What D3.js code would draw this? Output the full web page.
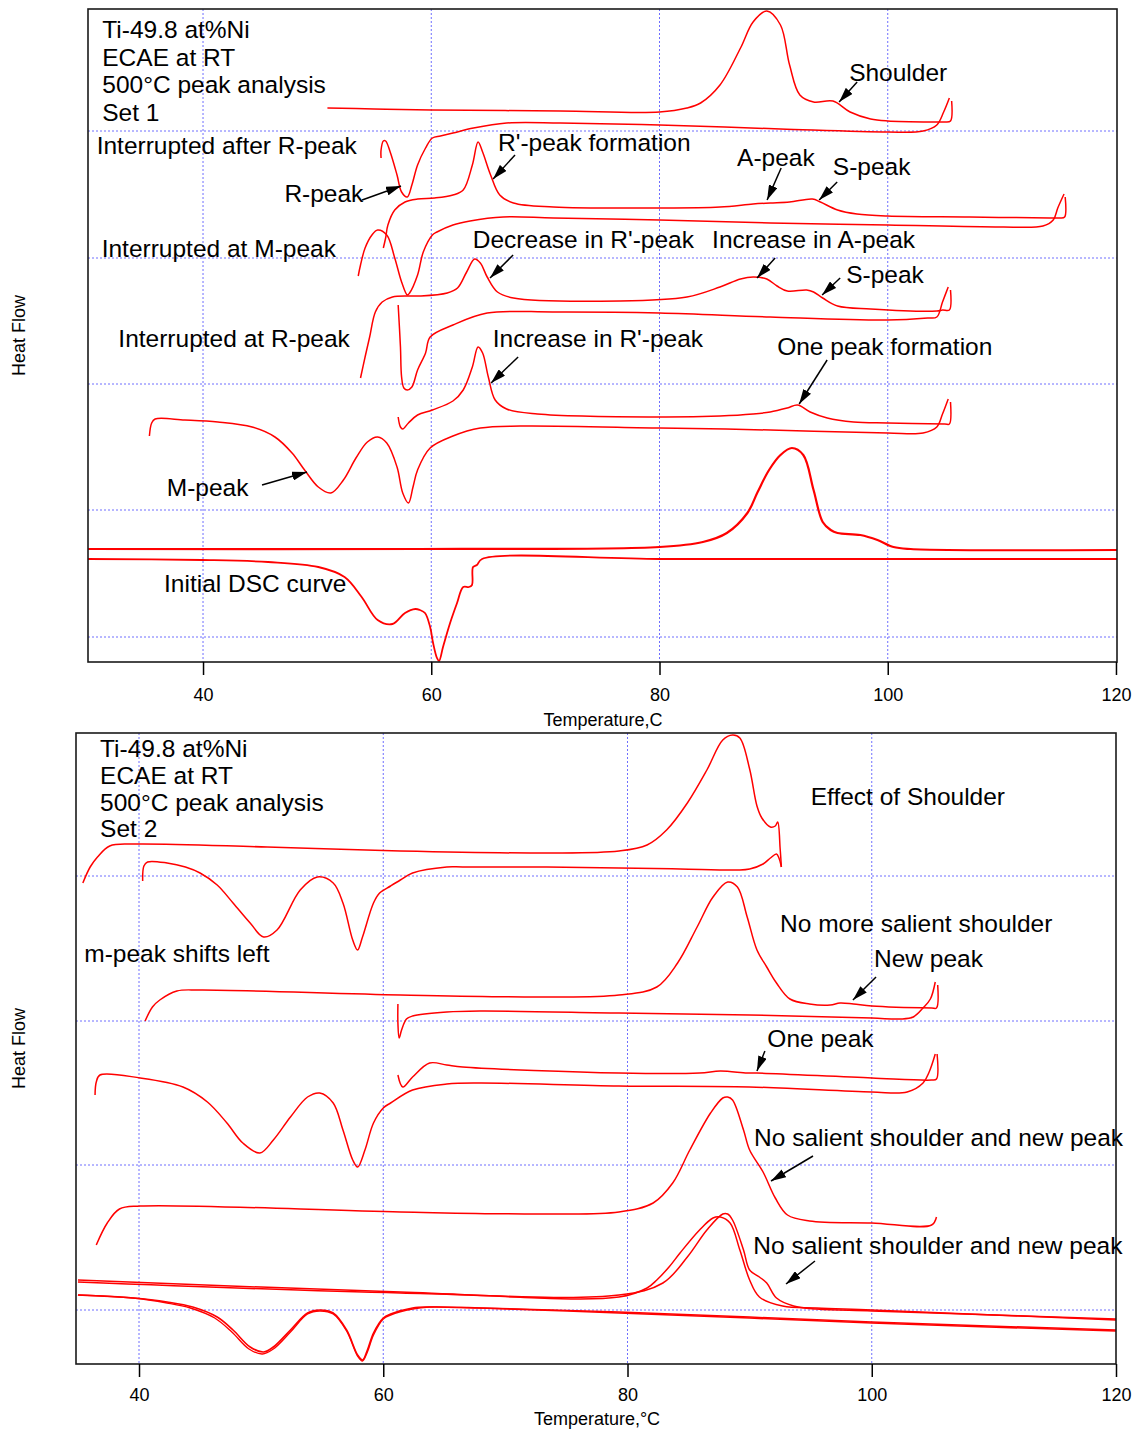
<!DOCTYPE html>
<html>
<head>
<meta charset="utf-8">
<script src="https://cdn.jsdelivr.net/npm/d3@7"></script>
<style>
  html, body { margin: 0; padding: 0; background: #fff; }
  svg { display: block; font-family: "Liberation Sans", Arial, Helvetica, sans-serif; }
</style>
</head>
<body>
<svg id="chart" width="1140" height="1431"></svg>
<script>
// ---------- axis values ----------
const tempTicks = [40, 60, 80, 100, 120];
const gridTemps = [40, 60, 80, 100];
const set1FlowGrid = [2.5, 15.2, 27.8, 40.4, 53.1];
const set2FlowGrid = [5.4, 19.9, 34.3, 48.8];

// ---------- Set 1 DSC traces: [temperature °C, heat flow (offset, arb. units)] ----------
const set1Heat0 = [[50.9,55.4],[55.0,55.3],[60.0,55.2],[71.3,55.1],[80.0,55.0],[82.4,55.4],[83.6,55.9],[85.3,57.7],[87.1,61.4],[88.2,64.0],[89.4,65.1],[90.6,63.7],[91.4,59.7],[92.3,56.7],[93.5,56.0],[95.2,56.1],[96.7,55.0],[98.5,54.3],[100.0,54.1],[104.3,54.0],[105.0,54.0],[105.5,54.1],[105.6,56.1]];
const set1Cool0 = [[105.4,56.4],[104.9,55.0],[104.3,53.7],[103.1,53.1],[100.0,53.0],[90.6,53.3],[80.0,53.7],[71.3,53.9],[66.6,53.9],[63.7,53.4],[61.9,52.9],[60.8,52.6],[60.1,52.4],[59.5,51.4],[58.8,49.7],[58.3,47.7],[57.9,46.5],[57.4,47.0],[57.0,48.7],[56.4,51.0],[56.0,52.1],[55.8,52.1],[55.6,51.2],[55.6,50.4]];
const set1Heat1 = [[55.8,41.4],[56.0,42.4],[56.2,43.7],[56.8,45.2],[57.7,46.0],[58.8,46.3],[60.3,46.4],[61.9,46.7],[62.8,47.2],[63.6,49.7],[64.1,52.0],[64.5,51.0],[65.2,48.7],[66.0,46.7],[67.2,45.9],[70.7,45.5],[80.0,45.4],[85.3,45.5],[88.2,45.8],[89.7,45.9],[91.4,46.0],[93.4,46.3],[94.1,46.0],[95.6,45.2],[97.3,44.8],[100.0,44.6],[107.2,44.5],[114.2,44.4],[115.1,44.4],[115.5,44.5],[115.55,46.5]];
const set1Cool1 = [[115.45,46.8],[114.9,45.4],[114.5,44.2],[113.6,43.6],[110.1,43.5],[100.0,43.7],[89.7,43.9],[80.0,44.2],[70.7,44.4],[66.3,44.5],[63.4,44.1],[61.9,43.7],[60.5,43.0],[60.1,42.7],[59.3,41.0],[58.8,38.7],[58.1,36.9],[57.9,36.7],[57.4,38.0],[56.8,40.4],[56.1,42.7],[55.3,43.2],[54.8,42.7],[54.2,41.4],[53.8,39.7],[53.6,38.6]];
const set1Heat2 = [[53.8,28.4],[54.2,30.5],[54.6,32.5],[55.1,35.0],[55.7,36.0],[56.6,36.5],[58.0,36.6],[59.0,36.6],[61.4,36.9],[62.3,37.4],[63.1,39.0],[63.8,40.3],[64.3,39.9],[64.9,38.5],[65.8,37.0],[67.2,36.4],[76.5,36.1],[82.4,36.5],[85.3,37.5],[87.1,38.3],[88.2,38.5],[89.4,38.3],[90.3,37.6],[91.2,37.1],[92.9,37.2],[93.5,37.0],[94.3,36.4],[95.6,35.6],[98.5,35.3],[104.3,35.1],[104.8,35.2],[105.4,35.2],[105.5,37.2]];
const set1Cool2 = [[105.3,37.5],[104.8,36.0],[104.3,34.5],[103.5,34.4],[100.0,34.2],[89.7,34.5],[80.0,34.9],[70.7,35.0],[64.9,34.9],[61.9,33.7],[59.9,32.5],[59.5,30.9],[58.8,29.2],[58.3,27.5],[57.9,27.2],[57.6,27.4],[57.4,28.5],[57.3,31.5],[57.1,35.7]];
const set1Heat3 = [[57.1,24.5],[57.3,23.5],[57.5,23.3],[58.0,23.9],[58.8,24.7],[60.1,25.2],[61.9,26.1],[62.8,27.2],[63.6,29.5],[64.1,31.5],[64.5,30.9],[65.0,28.5],[65.6,26.2],[66.6,25.3],[69.3,24.8],[80.0,24.5],[85.3,24.6],[88.2,24.8],[89.7,25.0],[91.2,25.4],[92.1,25.7],[93.2,25.0],[94.7,24.4],[97.0,24.0],[100.0,23.9],[105.0,23.8],[105.4,23.8],[105.5,26.0]];
const set1Cool3 = [[105.3,26.3],[104.8,24.8],[104.3,23.5],[103.1,22.9],[100.0,22.9],[89.7,23.2],[80.0,23.4],[67.8,23.6],[64.3,23.4],[61.9,22.6],[59.9,21.4],[58.8,19.2],[58.4,17.5],[58.0,15.9],[57.5,16.9],[57.0,19.5],[56.1,21.9],[55.3,22.5],[54.4,22.0],[53.4,20.4],[52.3,18.2],[51.2,16.9],[50.1,17.5],[48.9,19.2],[47.8,20.9],[46.3,22.5],[44.3,23.5],[41.3,24.0],[38.4,24.2],[35.8,24.3],[35.5,23.9],[35.3,22.6]];
const initialHeat = [[29.9,11.3],[59.0,11.3],[80.0,11.5],[83.8,12.0],[85.9,12.9],[87.7,14.9],[88.6,17.0],[89.6,19.2],[90.6,20.7],[91.6,21.4],[92.6,20.7],[93.5,17.2],[94.3,14.0],[95.0,13.2],[95.6,12.9],[97.6,12.7],[99.1,12.2],[100.5,11.5],[102.0,11.3],[120.1,11.2]];
const initialCool = [[120.1,10.3],[100.0,10.3],[80.0,10.3],[64.45,10.3],[64.0,9.7],[63.66,9.5],[63.57,7.7],[63.3,7.5],[62.8,7.5],[62.26,5.9],[61.65,3.9],[61.03,1.5],[60.68,0.1],[60.5,0.4],[60.16,1.9],[59.9,3.5],[59.45,4.9],[59.0,5.2],[58.6,5.3],[57.7,4.9],[56.6,3.8],[55.3,4.2],[53.9,6.5],[52.4,8.5],[50.1,9.5],[45.7,10.0],[39.9,10.2],[29.9,10.3]];

// ---------- Set 2 DSC traces ----------
const set2Heat0 = [[35.4,48.1],[36.0,49.7],[36.6,50.7],[37.6,51.8],[39.5,52.0],[50.5,51.7],[61.4,51.3],[73.4,51.1],[79.3,51.3],[81.6,51.9],[83.2,53.4],[84.9,56.1],[86.5,59.4],[87.8,62.4],[88.6,62.9],[89.2,62.6],[90.0,59.5],[90.6,55.8],[91.0,54.6],[91.7,53.7],[92.1,53.8],[92.3,54.2],[92.5,51.5],[92.6,49.7]];
const set2Cool0 = [[92.6,49.7],[92.4,50.6],[92.2,51.0],[91.7,50.6],[91.1,50.0],[90.0,49.5],[89.0,49.4],[84.3,49.5],[79.3,49.6],[73.4,49.7],[66.5,49.7],[65.2,49.7],[62.4,49.1],[61.4,48.4],[60.6,47.8],[59.7,47.1],[59.2,46.1],[58.3,42.7],[57.9,41.4],[57.5,42.4],[56.7,46.1],[55.9,48.1],[54.6,48.7],[53.2,47.4],[51.3,43.4],[50.2,42.7],[49.1,44.1],[47.7,46.1],[46.4,47.9],[45.0,49.1],[43.8,49.7],[42.3,50.1],[40.7,50.2],[40.4,49.8],[40.3,48.3]];
const set2Heat1 = [[40.5,34.3],[41.1,35.7],[41.7,36.4],[43.1,37.3],[45.0,37.4],[61.4,36.9],[73.4,36.7],[79.3,36.9],[82.4,37.7],[84.1,40.1],[85.7,43.7],[87.0,46.7],[88.2,48.2],[89.0,47.7],[89.8,44.7],[90.6,41.4],[91.4,39.7],[92.2,38.1],[93.3,36.5],[94.9,36.0],[96.6,35.9],[97.4,36.1],[98.5,36.0],[100.0,35.8],[104.9,35.6],[105.3,35.6],[105.4,37.9]];
const set2Cool1 = [[105.2,38.2],[104.8,36.5],[104.2,35.6],[103.4,34.7],[102.3,34.5],[100.0,34.6],[90.0,34.9],[79.3,35.1],[67.9,35.3],[65.2,35.2],[62.4,34.8],[61.9,34.5],[61.5,33.4],[61.3,32.6],[61.2,34.1],[61.2,36.0]];
const set2Heat2 = [[61.2,28.9],[61.6,27.7],[62.4,28.7],[63.8,30.1],[65.2,29.9],[66.5,29.7],[79.3,29.1],[85.9,29.1],[87.6,29.3],[89.8,29.1],[90.6,29.1],[100.0,28.6],[104.9,28.4],[105.3,28.5],[105.35,31.0]];
const set2Cool2 = [[105.2,31.0],[104.7,29.2],[104.2,28.1],[102.9,27.2],[100.0,27.2],[90.0,27.7],[79.3,27.8],[67.9,28.1],[65.2,28.0],[62.4,27.4],[60.6,26.1],[60.0,25.6],[59.2,24.1],[58.5,21.4],[57.9,19.7],[57.5,20.4],[56.7,23.4],[55.9,26.1],[54.8,27.1],[53.8,26.7],[52.4,24.7],[51.0,22.4],[49.9,21.1],[48.5,22.1],[47.2,24.1],[45.6,26.2],[43.6,27.7],[40.1,28.6],[36.8,28.9],[36.5,28.2],[36.4,26.9]];
const set2Heat3 = [[36.5,11.9],[37.4,14.1],[38.4,15.5],[40.1,15.8],[61.4,15.2],[73.4,15.0],[79.3,15.2],[82.1,16.1],[83.7,18.1],[85.1,21.4],[86.8,25.1],[87.8,26.6],[88.2,26.7],[88.6,26.4],[89.5,23.4],[90.0,21.4],[91.1,19.2],[92.1,16.6],[93.1,14.9],[94.9,14.3],[100.0,14.1],[104.9,13.9],[105.3,14.7]];
const set2Heat4a = [[35.0,8.4],[61.4,7.2],[79.3,6.7],[81.6,7.6],[82.4,8.4],[83.4,9.7],[84.3,11.1],[85.9,13.4],[87.0,14.6],[87.6,14.7],[88.4,14.1],[89.2,11.4],[90.0,8.4],[90.8,6.7],[92.7,5.8],[95.5,5.6],[100.0,5.4],[120.0,4.4]];
const set2Heat4b = [[35.0,8.2],[61.4,7.1],[79.3,6.9],[82.9,8.1],[84.9,10.7],[86.5,13.4],[87.8,15.0],[88.2,15.0],[88.6,14.4],[89.5,11.4],[90.0,9.4],[90.8,8.7],[91.4,8.1],[92.2,6.6],[93.6,5.8],[95.5,5.5],[100.0,5.3],[120.0,4.5]];
const set2Cool4a = [[120.0,3.3],[100.0,4.1],[90.0,4.6],[79.3,5.1],[67.9,5.6],[63.8,5.7],[62.4,5.6],[60.6,5.0],[60.0,4.6],[59.2,3.1],[58.7,1.4],[58.3,0.4],[57.9,0.9],[57.0,3.4],[55.9,5.1],[54.8,5.4],[53.8,5.1],[52.4,3.4],[51.0,1.7],[50.2,1.2],[49.1,1.7],[47.7,3.4],[46.4,4.7],[44.4,5.7],[42.3,6.2],[39.5,6.6],[35.0,6.9]];
const set2Cool4b = [[120.0,3.4],[100.0,4.2],[90.0,4.7],[79.3,5.2],[67.9,5.6],[63.8,5.7],[62.4,5.5],[60.6,4.9],[60.0,4.5],[59.2,2.9],[58.7,1.2],[58.3,0.3],[57.9,0.8],[57.0,3.3],[55.9,5.0],[54.8,5.3],[53.8,5.0],[52.4,3.2],[51.0,1.5],[50.1,1.0],[49.0,1.5],[47.6,3.2],[46.2,4.6],[44.2,5.6],[42.3,6.1],[39.5,6.6],[35.0,6.9]];

// ---------- annotation texts ----------
const set1Notes = [
  {text: "Ti-49.8 at%Ni", t: 31.17, f: 62.4},
  {text: "ECAE at RT", t: 31.17, f: 59.6},
  {text: "500°C peak analysis", t: 31.17, f: 56.9},
  {text: "Set 1", t: 31.17, f: 54.1},
  {text: "Interrupted after R-peak", t: 30.68, f: 50.8},
  {text: "R-peak", t: 47.13, f: 46.0},
  {text: "Interrupted at M-peak", t: 31.12, f: 40.5},
  {text: "Interrupted at R-peak", t: 32.58, f: 31.5},
  {text: "M-peak", t: 36.82, f: 16.6},
  {text: "Initial DSC curve", t: 36.58, f: 7.0},
  {text: "R'-peak formation", t: 65.85, f: 51.1},
  {text: "Decrease in R'-peak", t: 63.64, f: 41.4},
  {text: "Increase in A-peak", t: 84.61, f: 41.4},
  {text: "Increase in R'-peak", t: 65.39, f: 31.5},
  {text: "A-peak", t: 86.8, f: 49.6},
  {text: "Shoulder", t: 96.62, f: 58.1},
  {text: "S-peak", t: 95.19, f: 48.7},
  {text: "S-peak", t: 96.36, f: 37.9},
  {text: "One peak formation", t: 90.31, f: 30.7}
];
const set1Arrows = [
  [53.94, 46.2, 57.35, 47.6],
  [45.17, 17.7, 49.11, 19.0],
  [67.34, 50.7, 65.42, 48.3],
  [67.17, 40.7, 65.15, 38.4],
  [67.61, 30.5, 65.24, 27.9],
  [90.66, 49.4, 89.43, 46.2],
  [95.57, 48.0, 93.99, 46.2],
  [90.13, 40.4, 88.55, 38.4],
  [95.83, 38.4, 94.25, 36.7],
  [97.32, 58.0, 95.74, 56.0],
  [94.69, 30.2, 92.24, 25.8]
];
const set2Notes = [
  {text: "Ti-49.8 at%Ni", t: 36.81, f: 60.7},
  {text: "ECAE at RT", t: 36.81, f: 58.0},
  {text: "500°C peak analysis", t: 36.81, f: 55.3},
  {text: "Set 2", t: 36.81, f: 52.7},
  {text: "m-peak shifts left", t: 35.52, f: 40.2},
  {text: "Effect of Shoulder", t: 95.0, f: 55.9},
  {text: "No more salient shoulder", t: 92.49, f: 43.2},
  {text: "New peak", t: 100.18, f: 39.7},
  {text: "One peak", t: 91.45, f: 31.7},
  {text: "No salient shoulder and new peak", t: 90.36, f: 21.8},
  {text: "No salient shoulder and new peak", t: 90.3, f: 11.0}
];
const set2Arrows = [
  [100.35, 38.7, 98.46, 36.4],
  [91.25, 31.3, 90.6, 29.3],
  [95.19, 20.8, 91.75, 18.3],
  [95.35, 10.3, 92.98, 8.0]
];

// ---------- drawing ----------
const svg = d3.select("#chart");
const defs = svg.append("defs");
defs.append("marker")
  .attr("id", "arrowHead")
  .attr("viewBox", "0 0 15 9")
  .attr("refX", 15).attr("refY", 4.5)
  .attr("markerWidth", 15).attr("markerHeight", 9)
  .attr("markerUnits", "userSpaceOnUse")
  .attr("orient", "auto")
  .append("path").attr("d", "M0,0L15,4.5L0,9Z").attr("fill", "#000");

function drawPanel(p) {
  const x = d3.scaleLinear().domain(p.tempDomain).range([p.left, p.right]);
  const y = d3.scaleLinear().domain(p.flowDomain).range([p.bottom, p.top]);
  const g = svg.append("g");

  defs.append("clipPath").attr("id", p.id + "-clip")
    .append("rect")
    .attr("x", p.left).attr("y", p.top)
    .attr("width", p.right - p.left).attr("height", p.bottom - p.top);

  // dotted grid
  const grid = g.append("g")
    .attr("stroke", "#6f6fff").attr("stroke-width", 1).attr("stroke-dasharray", "2,2");
  grid.selectAll("line.h").data(p.flowGrid).join("line").attr("class", "h")
    .attr("x1", p.left).attr("x2", p.right)
    .attr("y1", d => y(d)).attr("y2", d => y(d));
  grid.selectAll("line.v").data(gridTemps).join("line").attr("class", "v")
    .attr("x1", d => x(d)).attr("x2", d => x(d))
    .attr("y1", p.top).attr("y2", p.bottom);

  // DSC traces
  const line = d3.line()
    .x(d => x(d[0])).y(d => y(d[1]))
    .curve(d3.curveCatmullRom.alpha(0.5));
  g.append("g").attr("clip-path", `url(#${p.id}-clip)`)
    .selectAll("path").data(p.curves).join("path")
    .attr("d", d => line(d.values))
    .attr("fill", "none")
    .attr("stroke", "#ff0000")
    .attr("stroke-width", d => d.width)
    .attr("stroke-linejoin", "round");

  // frame
  g.append("rect")
    .attr("x", p.left).attr("y", p.top)
    .attr("width", p.right - p.left).attr("height", p.bottom - p.top)
    .attr("fill", "none").attr("stroke", "#1a1a1a").attr("stroke-width", 1.6);

  // x axis
  const axis = d3.axisBottom(x).tickValues(tempTicks).tickSize(13)
    .tickPadding(p.tickPad).tickFormat(d3.format("d"));
  const ax = g.append("g").attr("transform", `translate(0,${p.bottom})`).call(axis);
  ax.select(".domain").remove();
  ax.attr("font-family", null).attr("font-size", null);
  ax.selectAll(".tick line").attr("stroke", "#000").attr("stroke-width", 1.5);
  ax.selectAll(".tick text").attr("fill", "#000").attr("font-size", 18);

  g.append("text")
    .attr("x", p.titleX).attr("y", p.titleY)
    .attr("text-anchor", "middle").attr("font-size", 18).attr("fill", "#000")
    .text(p.xTitle);

  g.append("text")
    .attr("transform", `translate(24.5,${(p.top + p.bottom) / 2}) rotate(-90)`)
    .attr("text-anchor", "middle").attr("font-size", 18).attr("fill", "#000")
    .text("Heat Flow");

  // notes and arrows
  g.append("g").selectAll("text").data(p.notes).join("text")
    .attr("x", d => x(d.t)).attr("y", d => y(d.f))
    .attr("font-size", 24.5).attr("fill", "#000")
    .text(d => d.text);

  g.append("g").selectAll("line").data(p.arrows).join("line")
    .attr("x1", d => x(d[0])).attr("y1", d => y(d[1]))
    .attr("x2", d => x(d[2])).attr("y2", d => y(d[3]))
    .attr("stroke", "#000").attr("stroke-width", 1.5)
    .attr("marker-end", "url(#arrowHead)");
}

drawPanel({
  id: "set1",
  left: 88, right: 1117, top: 9, bottom: 662,
  tempDomain: [29.92, 120.09], flowDomain: [0, 65.3],
  flowGrid: set1FlowGrid, tickPad: 13,
  xTitle: "Temperature,C", titleX: 603, titleY: 726,
  notes: set1Notes, arrows: set1Arrows,
  curves: [
    {values: set1Heat0, width: 1.5}, {values: set1Cool0, width: 1.5},
    {values: set1Heat1, width: 1.5}, {values: set1Cool1, width: 1.5},
    {values: set1Heat2, width: 1.5}, {values: set1Cool2, width: 1.5},
    {values: set1Heat3, width: 1.5}, {values: set1Cool3, width: 1.5},
    {values: initialHeat, width: 2.2}, {values: initialCool, width: 1.8}
  ]
});

drawPanel({
  id: "set2",
  left: 76, right: 1116, top: 733, bottom: 1364,
  tempDomain: [34.84, 120], flowDomain: [0, 63.1],
  flowGrid: set2FlowGrid, tickPad: 11,
  xTitle: "Temperature,°C", titleX: 597, titleY: 1425,
  notes: set2Notes, arrows: set2Arrows,
  curves: [
    {values: set2Heat0, width: 1.5}, {values: set2Cool0, width: 1.5},
    {values: set2Heat1, width: 1.5}, {values: set2Cool1, width: 1.5},
    {values: set2Heat2, width: 1.5}, {values: set2Cool2, width: 1.5},
    {values: set2Heat3, width: 1.5},
    {values: set2Heat4a, width: 1.5}, {values: set2Heat4b, width: 1.5},
    {values: set2Cool4a, width: 1.6}, {values: set2Cool4b, width: 1.4}
  ]
});
</script>
</body>
</html>
